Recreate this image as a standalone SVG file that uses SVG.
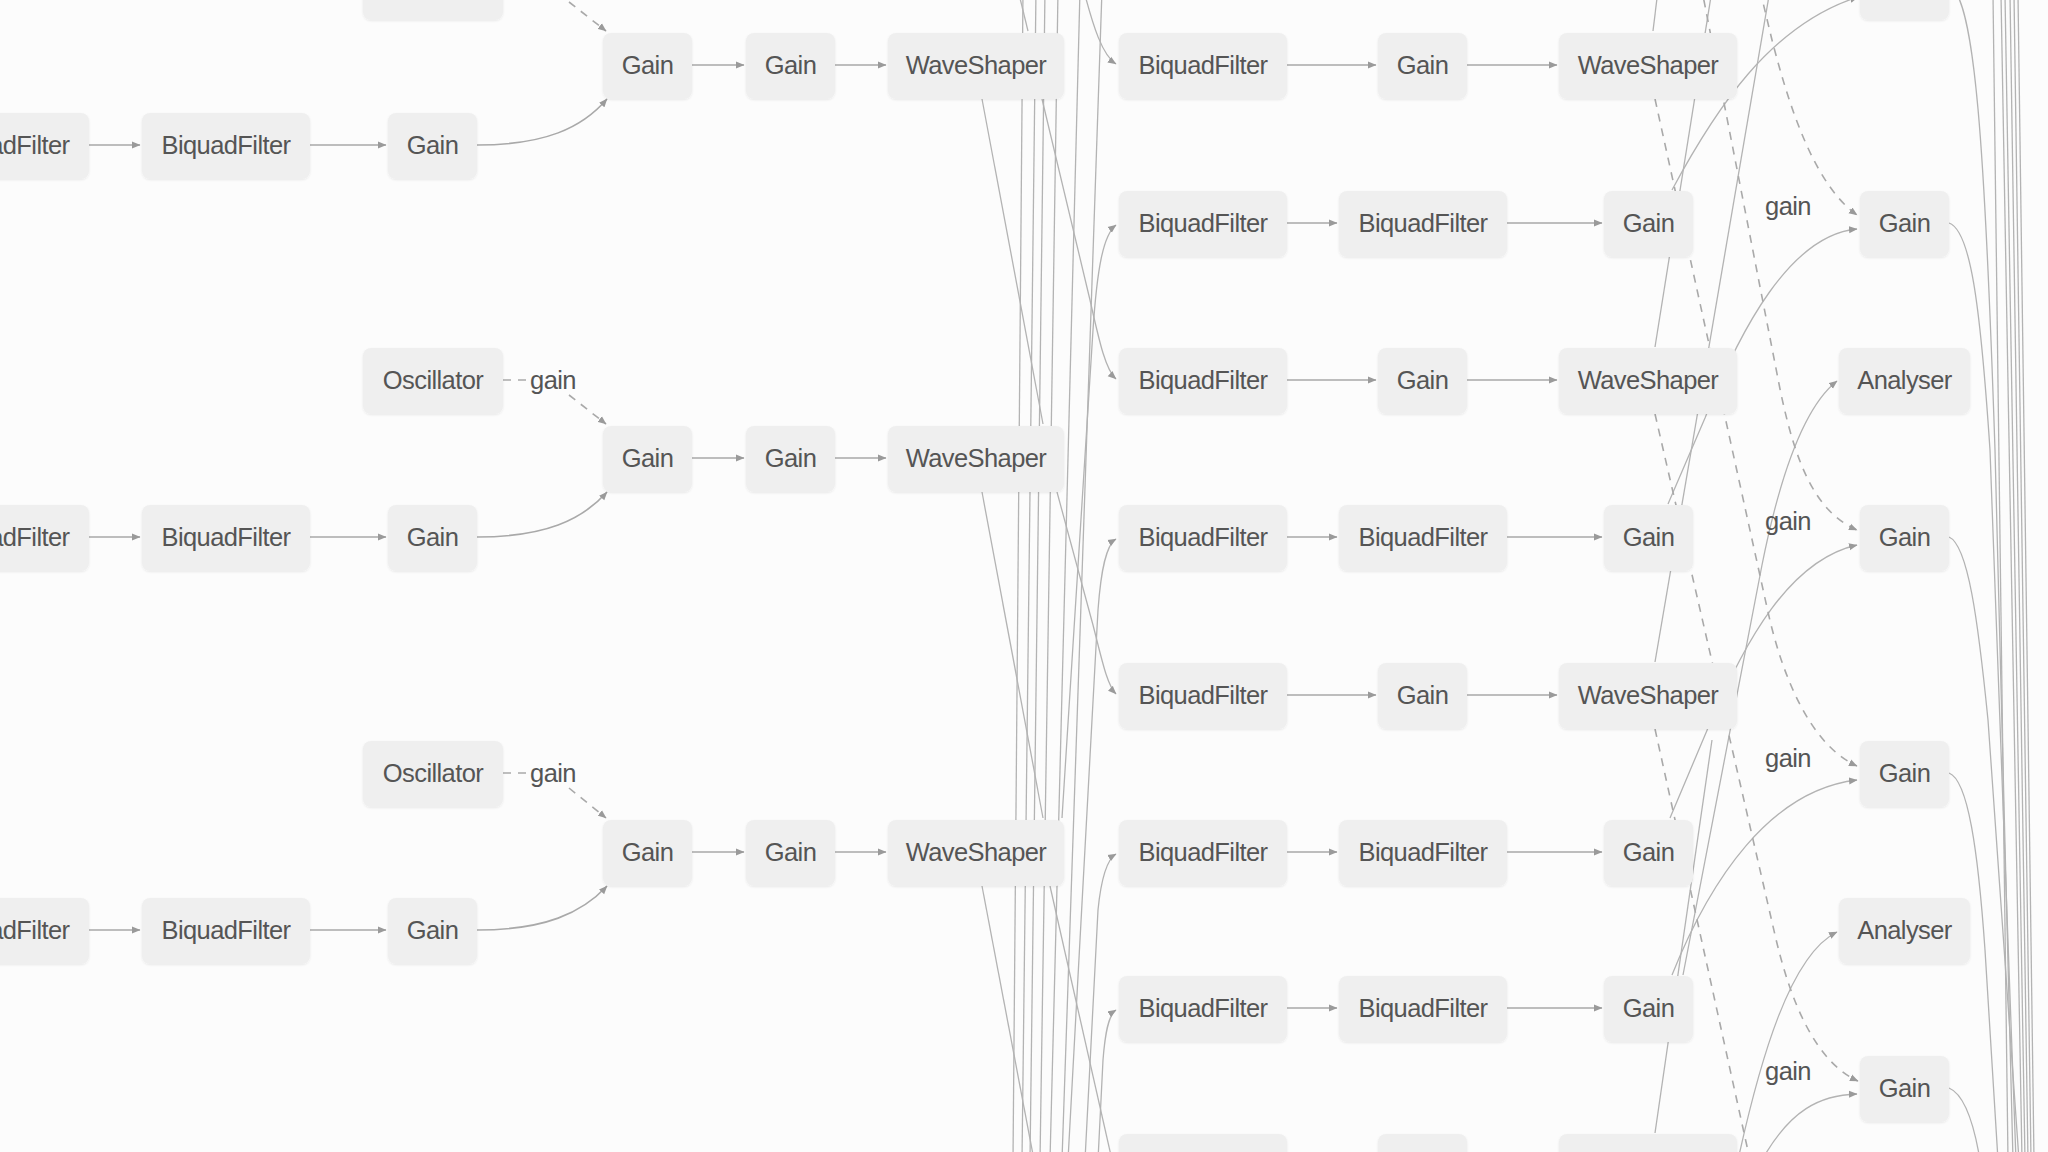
<svg xmlns="http://www.w3.org/2000/svg" width="2048" height="1152" viewBox="0 0 2048 1152">
<style>
.bg{fill:#fcfcfc}
.node rect{fill:#efefef;filter:url(#sh)}
.node text,.lbl{font-family:"Liberation Sans",Arial,Helvetica,sans-serif;font-size:25.5px;letter-spacing:-0.6px;fill:#555;text-anchor:middle}
.e{fill:none;stroke:#a9a9a9;stroke-width:1.6}
.b{fill:none;stroke:#b3b3b3;stroke-width:1.3}
.d{fill:none;stroke:#a9a9a9;stroke-width:1.6;stroke-dasharray:8 7}
.a{marker-end:url(#ar)}
</style>
<defs>
<marker id="ar" markerUnits="userSpaceOnUse" markerWidth="9" markerHeight="8" refX="8" refY="4" orient="auto"><path d="M0,0.5 L8.5,4 L0,7.5 z" fill="#9a9a9a"/></marker>
<filter id="sh" x="-10%" y="-10%" width="120%" height="130%"><feDropShadow dx="0" dy="1" stdDeviation="1.2" flood-color="#000" flood-opacity="0.08"/></filter>
</defs>
<rect class="bg" x="0" y="0" width="2048" height="1152"/>

<g id="connectors">
<path class="e a" d="M89,145 L140,145"/><path class="e a" d="M89,537 L140,537"/><path class="e a" d="M89,930 L140,930"/>
<path class="e a" d="M310,145 L386,145"/><path class="e a" d="M310,537 L386,537"/><path class="e a" d="M310,930 L386,930"/>
<path class="e a" d="M477,145 C545,145 582,128 607,99"/><path class="e a" d="M477,537 C545,537 582,520 607,492"/><path class="e a" d="M477,930 C545,930 582,913 607,886"/>
<path class="e a" d="M692,65 L744,65"/><path class="e a" d="M692,458 L744,458"/><path class="e a" d="M692,852 L744,852"/>
<path class="e a" d="M835,65 L886,65"/><path class="e a" d="M835,458 L886,458"/><path class="e a" d="M835,852 L886,852"/>
<path class="d" d="M503,-14 L528,-14"/><path class="d" d="M503,380 L528,380"/><path class="d" d="M503,773 L528,773"/>
<path class="d a" d="M569,2 L606,31"/><path class="d a" d="M569,395 L606,424"/><path class="d a" d="M569,788 L606,818"/>

<path class="b" d="M1023,-10 L1013,1160"/>
<path class="b" d="M1036,-10 L1022,1160"/>
<path class="b" d="M1045,-10 L1030,1160"/>
<path class="b" d="M1058,-10 L1040,1160"/>
<path class="b" d="M1080,-10 L1050,1160"/>
<path class="b" d="M1102,-10 L1062,1160"/>
<path class="b" d="M1018,-10 L1028,31"/>
<path class="b" d="M982,99 L1043,424"/>
<path class="b" d="M982,492 L1043,818"/>
<path class="b" d="M982,886 L1034,1160"/>
<path class="b a" d="M1085,-5 C1093,25 1102,55 1116,64"/>
<path class="b a" d="M1062,818 L1093,330 C1097,270 1103,235 1116,225"/>
<path class="b a" d="M1042,99 L1090,300 C1100,345 1106,370 1116,379"/>
<path class="b a" d="M1068,1160 L1098,610 C1101,570 1106,545 1116,539"/>
<path class="b a" d="M1057,492 L1093,625 C1102,660 1107,685 1116,694"/>
<path class="b a" d="M1085,1160 L1098,910 C1101,880 1106,860 1116,854"/>
<path class="b a" d="M1098,1160 L1103,1060 C1105,1035 1108,1015 1116,1010"/>
<path class="b" d="M1050,886 L1112,1160"/>

<path class="e a" d="M1287,65 L1376,65"/><path class="e a" d="M1287,223 L1337,223"/><path class="e a" d="M1287,380 L1376,380"/><path class="e a" d="M1287,537 L1337,537"/>
<path class="e a" d="M1287,695 L1376,695"/><path class="e a" d="M1287,852 L1337,852"/><path class="e a" d="M1287,1008 L1337,1008"/>
<path class="e a" d="M1467,65 L1557,65"/><path class="e a" d="M1507,223 L1602,223"/><path class="e a" d="M1467,380 L1557,380"/><path class="e a" d="M1507,537 L1602,537"/>
<path class="e a" d="M1467,695 L1557,695"/><path class="e a" d="M1507,852 L1602,852"/><path class="e a" d="M1507,1008 L1602,1008"/>

<path class="b" d="M1653,31 L1658,-10"/>
<path class="b" d="M1655,347 L1712,-10"/>
<path class="b" d="M1655,662 L1770,-10"/>
<path class="b" d="M1655,1133 L1712,740"/>
<path class="b a" d="M1672,190 C1715,110 1770,25 1858,-3"/>
<path class="b a" d="M1668,504 L1705,418 C1740,330 1790,235 1857,229"/>
<path class="b a" d="M1670,818 L1708,728 C1745,640 1790,560 1857,545"/>
<path class="b a" d="M1683,975 L1762,565 C1777,490 1800,410 1837,381"/>
<path class="b a" d="M1672,975 C1710,880 1770,790 1857,780"/>
<path class="b a" d="M1738,1160 C1760,1060 1790,955 1837,932"/>
<path class="b a" d="M1762,1160 C1790,1110 1820,1095 1857,1094"/>
<path class="d a" d="M1760,-10 L1772,40 C1790,110 1815,185 1857,215"/>
<path class="d a" d="M1698,-30 L1780,389 C1795,462 1815,512 1857,530"/>
<path class="d a" d="M1655,99 L1768,612 C1782,675 1810,745 1857,766"/>
<path class="d a" d="M1655,414 L1775,935 C1790,1000 1815,1062 1858,1081"/>
<path class="d" d="M1655,729 L1750,1160"/>

<path class="b" d="M1949,-14 C1975,-5 1985,150 1995,450 L2013,1160"/>
<path class="b" d="M1949,223 C1970,230 1980,300 1990,450 L2016,1160"/>
<path class="b" d="M1949,537 C1968,545 1978,620 1988,720 L2019,1160"/>
<path class="b" d="M1949,773 C1968,780 1978,850 1985,950 L1998,1160"/>
<path class="b" d="M1949,1088 C1966,1095 1975,1130 1980,1160"/>
<path class="b" d="M1993,-5 L2008,1160"/>
<path class="b" d="M2001,-5 L2022,1160"/>
<path class="b" d="M2005,-5 L2025,1160"/>
<path class="b" d="M2010,-5 L2028,1160"/>
<path class="b" d="M2014,-5 L2031,1160"/>
<path class="b" d="M2018,-5 L2034,1160"/>
</g>

<g id="labels">
<text class="lbl" x="553" y="-5">gain</text>
<text class="lbl" x="553" y="389">gain</text>
<text class="lbl" x="553" y="782">gain</text>
<text class="lbl" x="1788" y="215">gain</text>
<text class="lbl" x="1788" y="530">gain</text>
<text class="lbl" x="1788" y="767">gain</text>
<text class="lbl" x="1788" y="1080">gain</text>
</g>

<g id="nodes">
<g id="osc0" class="node"><rect x="363" y="-46" width="140" height="66" rx="8"/><text x="433" y="-5">Oscillator</text></g>
<g id="osc1" class="node"><rect x="363" y="348" width="140" height="66" rx="8"/><text x="433" y="389">Oscillator</text></g>
<g id="osc2" class="node"><rect x="363" y="741" width="140" height="66" rx="8"/><text x="433" y="782">Oscillator</text></g>

<g id="a0" class="node"><rect x="-79" y="113" width="168" height="66" rx="8"/><text x="5" y="154">BiquadFilter</text></g>
<g id="a1" class="node"><rect x="-79" y="505" width="168" height="66" rx="8"/><text x="5" y="546">BiquadFilter</text></g>
<g id="a2" class="node"><rect x="-79" y="898" width="168" height="66" rx="8"/><text x="5" y="939">BiquadFilter</text></g>
<g id="b0" class="node"><rect x="142" y="113" width="168" height="66" rx="8"/><text x="226" y="154">BiquadFilter</text></g>
<g id="b1" class="node"><rect x="142" y="505" width="168" height="66" rx="8"/><text x="226" y="546">BiquadFilter</text></g>
<g id="b2" class="node"><rect x="142" y="898" width="168" height="66" rx="8"/><text x="226" y="939">BiquadFilter</text></g>
<g id="c0" class="node"><rect x="388" y="113" width="89" height="66" rx="8"/><text x="432.5" y="154">Gain</text></g>
<g id="c1" class="node"><rect x="388" y="505" width="89" height="66" rx="8"/><text x="432.5" y="546">Gain</text></g>
<g id="c2" class="node"><rect x="388" y="898" width="89" height="66" rx="8"/><text x="432.5" y="939">Gain</text></g>

<g id="d0" class="node"><rect x="603" y="33" width="89" height="66" rx="8"/><text x="647.5" y="74">Gain</text></g>
<g id="d1" class="node"><rect x="603" y="426" width="89" height="66" rx="8"/><text x="647.5" y="467">Gain</text></g>
<g id="d2" class="node"><rect x="603" y="820" width="89" height="66" rx="8"/><text x="647.5" y="861">Gain</text></g>
<g id="e0" class="node"><rect x="746" y="33" width="89" height="66" rx="8"/><text x="790.5" y="74">Gain</text></g>
<g id="e1" class="node"><rect x="746" y="426" width="89" height="66" rx="8"/><text x="790.5" y="467">Gain</text></g>
<g id="e2" class="node"><rect x="746" y="820" width="89" height="66" rx="8"/><text x="790.5" y="861">Gain</text></g>
<g id="f0" class="node"><rect x="888" y="33" width="176" height="66" rx="8"/><text x="976" y="74">WaveShaper</text></g>
<g id="f1" class="node"><rect x="888" y="426" width="176" height="66" rx="8"/><text x="976" y="467">WaveShaper</text></g>
<g id="f2" class="node"><rect x="888" y="820" width="176" height="66" rx="8"/><text x="976" y="861">WaveShaper</text></g>

<g id="g0" class="node"><rect x="1119" y="33" width="168" height="66" rx="8"/><text x="1203" y="74">BiquadFilter</text></g>
<g id="g1" class="node"><rect x="1119" y="191" width="168" height="66" rx="8"/><text x="1203" y="232">BiquadFilter</text></g>
<g id="g2" class="node"><rect x="1119" y="348" width="168" height="66" rx="8"/><text x="1203" y="389">BiquadFilter</text></g>
<g id="g3" class="node"><rect x="1119" y="505" width="168" height="66" rx="8"/><text x="1203" y="546">BiquadFilter</text></g>
<g id="g4" class="node"><rect x="1119" y="663" width="168" height="66" rx="8"/><text x="1203" y="704">BiquadFilter</text></g>
<g id="g5" class="node"><rect x="1119" y="820" width="168" height="66" rx="8"/><text x="1203" y="861">BiquadFilter</text></g>
<g id="g6" class="node"><rect x="1119" y="976" width="168" height="66" rx="8"/><text x="1203" y="1017">BiquadFilter</text></g>
<g id="g7" class="node"><rect x="1119" y="1134" width="168" height="66" rx="8"/><text x="1203" y="1175">BiquadFilter</text></g>

<g id="h0" class="node"><rect x="1378" y="33" width="89" height="66" rx="8"/><text x="1422.5" y="74">Gain</text></g>
<g id="h1" class="node"><rect x="1339" y="191" width="168" height="66" rx="8"/><text x="1423" y="232">BiquadFilter</text></g>
<g id="h2" class="node"><rect x="1378" y="348" width="89" height="66" rx="8"/><text x="1422.5" y="389">Gain</text></g>
<g id="h3" class="node"><rect x="1339" y="505" width="168" height="66" rx="8"/><text x="1423" y="546">BiquadFilter</text></g>
<g id="h4" class="node"><rect x="1378" y="663" width="89" height="66" rx="8"/><text x="1422.5" y="704">Gain</text></g>
<g id="h5" class="node"><rect x="1339" y="820" width="168" height="66" rx="8"/><text x="1423" y="861">BiquadFilter</text></g>
<g id="h6" class="node"><rect x="1339" y="976" width="168" height="66" rx="8"/><text x="1423" y="1017">BiquadFilter</text></g>
<g id="h7" class="node"><rect x="1378" y="1134" width="89" height="66" rx="8"/><text x="1422.5" y="1175">Gain</text></g>

<g id="i0" class="node"><rect x="1559" y="33" width="178" height="66" rx="8"/><text x="1648" y="74">WaveShaper</text></g>
<g id="i1" class="node"><rect x="1604" y="191" width="89" height="66" rx="8"/><text x="1648.5" y="232">Gain</text></g>
<g id="i2" class="node"><rect x="1559" y="348" width="178" height="66" rx="8"/><text x="1648" y="389">WaveShaper</text></g>
<g id="i3" class="node"><rect x="1604" y="505" width="89" height="66" rx="8"/><text x="1648.5" y="546">Gain</text></g>
<g id="i4" class="node"><rect x="1559" y="663" width="178" height="66" rx="8"/><text x="1648" y="704">WaveShaper</text></g>
<g id="i5" class="node"><rect x="1604" y="820" width="89" height="66" rx="8"/><text x="1648.5" y="861">Gain</text></g>
<g id="i6" class="node"><rect x="1604" y="976" width="89" height="66" rx="8"/><text x="1648.5" y="1017">Gain</text></g>
<g id="i7" class="node"><rect x="1559" y="1134" width="178" height="66" rx="8"/><text x="1648" y="1175">WaveShaper</text></g>

<g id="j0" class="node"><rect x="1860" y="-46" width="89" height="66" rx="8"/><text x="1904.5" y="-5">Gain</text></g>
<g id="j1" class="node"><rect x="1860" y="191" width="89" height="66" rx="8"/><text x="1904.5" y="232">Gain</text></g>
<g id="j2" class="node"><rect x="1839" y="348" width="131" height="66" rx="8"/><text x="1904.5" y="389">Analyser</text></g>
<g id="j3" class="node"><rect x="1860" y="505" width="89" height="66" rx="8"/><text x="1904.5" y="546">Gain</text></g>
<g id="j4" class="node"><rect x="1860" y="741" width="89" height="66" rx="8"/><text x="1904.5" y="782">Gain</text></g>
<g id="j5" class="node"><rect x="1839" y="898" width="131" height="66" rx="8"/><text x="1904.5" y="939">Analyser</text></g>
<g id="j6" class="node"><rect x="1860" y="1056" width="89" height="66" rx="8"/><text x="1904.5" y="1097">Gain</text></g>
</g>
</svg>
